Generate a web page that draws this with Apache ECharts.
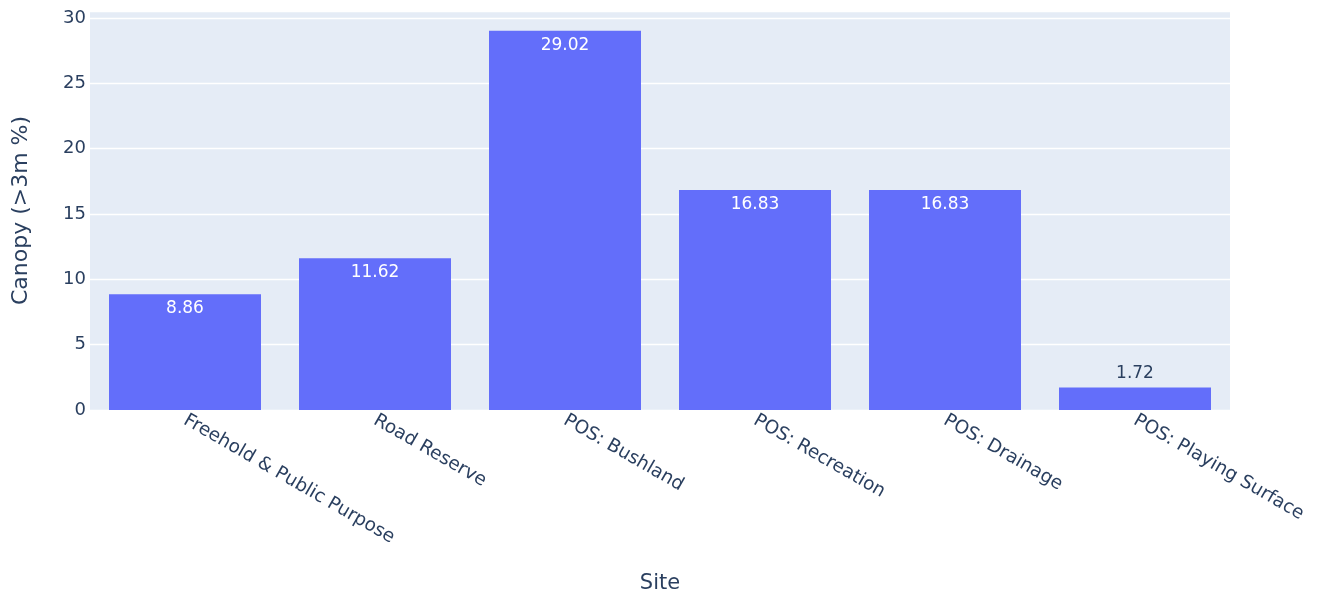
<!DOCTYPE html>
<html>
<head>
<meta charset="utf-8">
<script src="https://cdn.jsdelivr.net/npm/echarts@6/dist/echarts.min.js"></script>
<style>html,body{margin:0;padding:0;background:#fff}#c{width:1322px;height:603px}</style>
</head>
<body>
<div id="c"></div>
<script>
const categories = ["Freehold & Public Purpose", "Road Reserve", "POS: Bushland", "POS: Recreation", "POS: Drainage", "POS: Playing Surface"];
const canopy = [8.86, 11.62, 29.02, 16.83, 16.83, 1.72];
const yTicks = [0, 5, 10, 15, 20, 25, 30];

const chart = echarts.init(document.getElementById('c'));
const font = '"DejaVu Sans", Verdana, sans-serif';
const textColor = '#2a3f5f';
chart.setOption({
  animation: false,
  textStyle: { fontFamily: font },
  grid: { left: 90, right: 92, top: 11, bottom: 193, backgroundColor: '#e5ecf6', show: true, borderWidth: 0, containLabel: false, outerBoundsMode: 'none' },
  xAxis: {
    type: 'category',
    data: categories,
    name: 'Site',
    nameLocation: 'middle',
    nameGap: 163,
    nameTextStyle: { color: textColor, fontSize: 21, fontFamily: font },
    axisLine: { show: false },
    axisTick: { show: false },
    axisLabel: { rotate: -30, color: textColor, fontSize: 18.5, fontFamily: font, margin: 9, interval: 0 }
  },
  yAxis: {
    type: 'value',
    min: 0,
    max: 30.54,
    interval: 5,
    name: 'Canopy (>3m %)',
    nameLocation: 'middle',
    nameGap: 58,
    nameRotate: 90,
    nameTextStyle: { color: textColor, fontSize: 22, fontFamily: font },
    axisLine: { show: false },
    axisTick: { show: false },
    splitLine: { lineStyle: { color: '#ffffff', width: 1.3 } },
    axisLabel: {
      color: textColor, fontSize: 18, fontFamily: font, margin: 4,
      formatter: v => (yTicks.indexOf(v) >= 0 ? String(v) : '')
    }
  },
  series: [{
    type: 'bar',
    barCategoryGap: '20%',
    itemStyle: { color: '#636efa' },
    label: {
      show: true, position: 'insideTop', distance: 6, color: '#ffffff', fontSize: 17, fontFamily: font,
      formatter: p => p.value.toFixed(2)
    },
    data: canopy.map(v => v < 3
      ? { value: v, label: { position: 'top', color: textColor, distance: 5 } }
      : v)
  }]
});
</script>
</body>
</html>
